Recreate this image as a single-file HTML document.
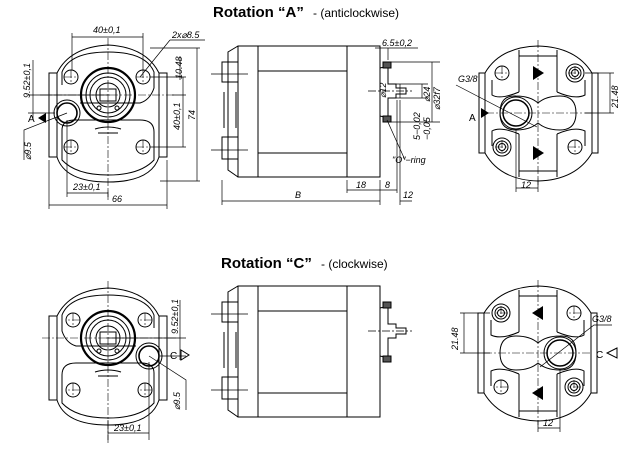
<!DOCTYPE html>
<html><head><meta charset="utf-8"><style>
html,body{margin:0;padding:0;background:#fff;}
svg{display:block;}
text{font-family:"Liberation Sans",sans-serif;fill:#000;}
.d{font-style:italic;font-size:9px;}
</style></head><body>
<svg width="640" height="475" viewBox="0 0 640 475" xmlns="http://www.w3.org/2000/svg">
<defs>
<g id="front" fill="none" stroke="#000" stroke-width="1">
  <rect x="49" y="73" width="8" height="84"/>
  <rect x="159" y="73" width="8" height="84"/>
  <path d="M57 73 Q70 47 108 45 Q146 47 159 73"/>
  <path d="M57 157 Q65 182 108 182 Q151 182 159 157"/>
  <path d="M62 85 L62 72 Q70 52 108 52 Q146 52 154 72 L154 88 Q150 100 140 103 L80 103"/>
  <path d="M62 130 Q62 120 75 120 L140 120 Q154 120 154 132 L154 160 Q140 175 108 175 Q76 175 62 160 Z"/>
  <circle cx="108" cy="95" r="27" stroke-width="2.2"/>
  <circle cx="108" cy="95" r="22"/>
  <circle cx="108" cy="95" r="18"/>
  <circle cx="108" cy="95" r="12"/>
  <rect x="100" y="89" width="16" height="12"/>
  <circle cx="99" cy="108" r="2"/><circle cx="117" cy="108" r="2"/>
  <circle cx="71" cy="77" r="7"/><circle cx="143" cy="77" r="7"/>
  <circle cx="71" cy="147" r="7"/><circle cx="143" cy="147" r="7"/>
  <circle cx="67" cy="113" r="13"/><circle cx="67" cy="113" r="10" stroke-width="1.6"/>
  <path d="M95 129 Q108 125 121 129 M98 133 L118 133" />
  <path d="M108 38 V200 M40 95 H175 M64 77 H78 M71 70 V84 M136 77 H150 M143 70 V84 M64 147 H78 M71 140 V154 M136 147 H150 M143 140 V154" stroke-width="0.6" stroke-dasharray="8 2 2 2"/>
</g>
<g id="side" fill="none" stroke="#000" stroke-width="1">
  <path d="M238 46 H380 V177 H238 Z"/>
  <path d="M238 46 L228 52 V170 L238 177"/>
  <path d="M258 46 V177 M347 46 V177 M258 71 H347 M258 153 H347"/>
  <rect x="222" y="62" width="16" height="20"/>
  <rect x="222" y="137" width="16" height="22"/>
  <path d="M224 92 V128 M236 92 V128"/>
  <path d="M211 74 H248 M211 150 H248" stroke-width="0.7"/>
  <path d="M380 68 L388 66 V84 H396 V88 H406 V94 H396 V98 H388 V118 L380 116"/>
  <rect x="383" y="62" width="8" height="6" fill="#555"/>
  <rect x="383" y="116" width="8" height="6" fill="#555"/>
  <path d="M368 91 H412" stroke-width="0.7" stroke-dasharray="8 2 2 2"/>
</g>
<g id="rear" fill="none" stroke="#000" stroke-width="1">
  <rect x="479" y="73" width="6" height="80"/>
  <rect x="592" y="73" width="6" height="80"/>
  <path d="M485 73 Q500 47 538 46 Q576 47 592 73"/>
  <path d="M485 153 Q500 180 538 181 Q576 180 592 153"/>
  <path d="M519 50 V92 M557 50 V92 M519 134 V177 M557 134 V177 M519 56 H557 M519 171 H557"/>
  <path d="M492 80 V95 Q500 100 519 92 M492 146 V131 Q500 126 519 134 M585 80 V95 Q575 100 557 92 M585 146 V131 Q575 126 557 134"/>
  <path d="M500 113 Q500 95 516 96 Q530 96 538 103 Q546 96 560 96 Q576 96 576 113 Q576 130 560 130 Q546 130 538 123 Q530 130 516 130 Q500 130 500 113 Z"/>
  <circle cx="516" cy="113" r="16"/><circle cx="516" cy="113" r="13" stroke-width="1.5"/>
  <circle cx="502" cy="73" r="7"/>
  <circle cx="575" cy="73" r="9"/><circle cx="575" cy="73" r="6"/><circle cx="575" cy="73" r="3.5"/>
  <circle cx="502" cy="147" r="9"/><circle cx="502" cy="147" r="6"/><circle cx="502" cy="147" r="3.5"/>
  <circle cx="575" cy="147" r="7"/>
  <path d="M538 40 V185 M486 113 H592 M495 73 H509 M502 66 V80 M568 73 H582 M575 66 V80 M495 147 H509 M502 140 V154 M568 147 H582 M575 140 V154" stroke-width="0.6" stroke-dasharray="8 2 2 2"/>
</g>
</defs>

<!-- TOP -->
<text x="213" y="17" font-size="15" font-weight="bold">Rotation “A”</text>
<text x="313" y="17" font-size="12">- (anticlockwise)</text>
<use href="#front"/>
<use href="#side"/>
<use href="#rear"/>
<path d="M533 66 L544 73 L533 80 Z M533 146 L544 153 L533 160 Z" fill="#000"/>

<g fill="none" stroke="#000" stroke-width="0.7">
  <path d="M72 37 H143 M72 33 V70 M143 33 V70"/>
  <path d="M197 48 V181 M150 48 H200 M160 181 H200"/>
  <path d="M183 77 V147 M150 77 H186 M150 147 H186"/>
  <path d="M180 56 V80 M172 95 H186"/>
  <path d="M33 60 V120 M28 95 H110 M28 113 H55"/>
  <path d="M67 120 V197 M67 193 H108 M108 190 V197"/>
  <path d="M49 160 V209 M167 160 V209 M49 205 H167"/>
  <path d="M170 40 H205 M170 40 L140 77"/>
  <path d="M24 160 V130 L67 113"/>
  <path d="M222 180 V205 M380 180 V205 M222 201 H380 M347 180 V193 M347 190 H380 M380 190 H397 M397 100 V193 M400 100 V205 M400 201 H412"/>
  <path d="M380 48 V60 M388 48 V60 M375 48 H418"/>
  <path d="M388 62 H440 M388 122 H440 M432 62 V122 M396 84 H428 M396 98 H428 M422 84 V98 M400 84 V98 M387 120 L405 160"/>
  <path d="M456 85 L537 127"/>
  <path d="M585 73 H614 M585 113 H614 M610 73 V113"/>
  <path d="M516 130 V192 M538 178 V192 M516 188 H538"/>
</g>
<path d="M38 118 L46 113 L46 123 Z M481 108 L481 118 L489 113 Z" fill="#000"/>
<text x="28" y="122" font-size="10">A</text>
<text x="469" y="121" font-size="10">A</text>
<g class="d">
<text x="93" y="33">40±0,1</text>
<text x="172" y="38">2x⌀8.5</text>
<text x="73" y="190">23±0,1</text>
<text x="112" y="202">66</text>
<text x="295" y="198">B</text>
<text x="356" y="188">18</text>
<text x="385" y="188">8</text>
<text x="403" y="198">12</text>
<text x="382" y="46">6.5±0,2</text>
<text x="458" y="82">G3/8</text>
<text x="521" y="188">12</text>
<text x="392" y="163">"O"−ring</text>
<text transform="translate(30,98) rotate(-90)">9.52±0,1</text>
<text transform="translate(31,160) rotate(-90)">⌀9.5</text>
<text transform="translate(182,79) rotate(-90)">10.48</text>
<text transform="translate(180,130) rotate(-90)">40±0,1</text>
<text transform="translate(195,120) rotate(-90)">74</text>
<text transform="translate(386,98) rotate(-90)">⌀12</text>
<text transform="translate(430,102) rotate(-90)">⌀24</text>
<text transform="translate(440,110) rotate(-90)">⌀32f7</text>
<text transform="translate(420,140) rotate(-90)">5−0,02</text>
<text transform="translate(430,140) rotate(-90)">−0,05</text>
<text transform="translate(618,108) rotate(-90)">21.48</text>
</g>

<!-- BOTTOM -->
<text x="221" y="268" font-size="15" font-weight="bold">Rotation “C”</text>
<text x="321" y="268" font-size="12">- (clockwise)</text>
<use href="#front" transform="translate(216,243) scale(-1,1)"/>
<use href="#side" transform="translate(0,240)"/>
<use href="#rear" transform="translate(1076,240) scale(-1,1)"/>
<path d="M543 306 L532 313 L543 320 Z M543 386 L532 393 L543 400 Z" fill="#000"/>
<g fill="none" stroke="#000" stroke-width="0.7">
  <path d="M180 300 V360 M106 338 H186 M160 356 H186"/>
  <path d="M149 362 V440 M108 420 V440 M108 433 H149"/>
  <path d="M186 410 V380 L149 356"/>
  <path d="M460 313 H490 M460 353 H490 M464 313 V353"/>
  <path d="M538 420 V432 M560 370 V432 M538 428 H560"/>
  <path d="M612 325 H594 L540 367"/>
</g>
<path d="M181 350 L181 360 L189 355 Z" fill="none" stroke="#000"/>
<path d="M617 348 L607 353 L617 358 Z" fill="none" stroke="#000"/>
<text x="170" y="359" font-size="10">C</text>
<text x="596" y="358" font-size="10">C</text>
<g class="d">
<text x="114" y="431">23±0,1</text>
<text x="592" y="322">G3/8</text>
<text x="543" y="426">12</text>
<text transform="translate(178,334) rotate(-90)">9.52±0,1</text>
<text transform="translate(180,410) rotate(-90)">⌀9.5</text>
<text transform="translate(458,350) rotate(-90)">21.48</text>
</g>
</svg>
</body></html>
